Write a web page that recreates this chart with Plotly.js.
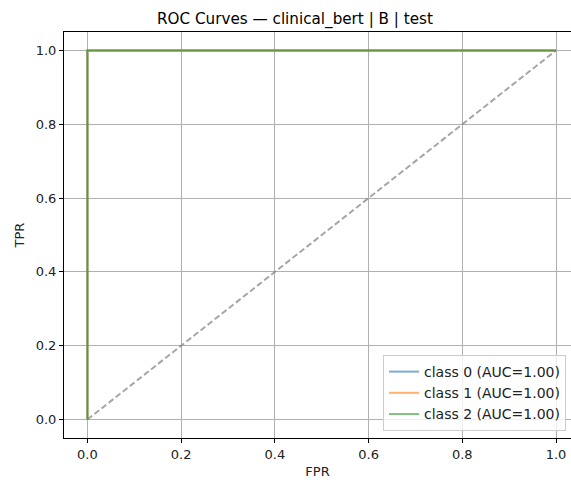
<!DOCTYPE html>
<html><head><meta charset="utf-8">
<script src="https://cdn.plot.ly/plotly-3.0.1.min.js"></script>
<style>html,body{margin:0;padding:0;background:#fff}#chart{width:571px;height:481px}</style>
</head><body><div id="chart"></div>
<script>
const classNames = ["class 0 (AUC=1.00)", "class 1 (AUC=1.00)", "class 2 (AUC=1.00)"];
const fpr0 = [0, 0, 1], tpr0 = [0, 1, 1];
const fpr1 = [0, 0, 1], tpr1 = [0, 1, 1];
const fpr2 = [0, 0, 1], tpr2 = [0, 1, 1];
const diagX = [0, 1], diagY = [0, 1];
const xTicks = [0, 0.2, 0.4, 0.6, 0.8, 1.0];
const yTicks = [0, 0.2, 0.4, 0.6, 0.8, 1.0];
const xTickText = ["0.0", "0.2", "0.4", "0.6", "0.8", "1.0"];
const yTickText = ["0.0", "0.2", "0.4", "0.6", "0.8", "1.0"];

const colors = ["rgba(31,119,180,0.6)", "rgba(255,127,14,0.6)", "rgba(44,160,44,0.6)"];
const fprs = [fpr0, fpr1, fpr2], tprs = [tpr0, tpr1, tpr2];
const font = "DejaVu Sans, sans-serif";
const traces = fprs.map((f, i) => ({
  x: f, y: tprs[i], mode: "lines", name: classNames[i],
  line: {color: colors[i], width: 2}, type: "scatter"
}));
traces.push({x: diagX, y: diagY, mode: "lines", showlegend: false,
  line: {color: "rgba(128,128,128,0.7)", width: 2, dash: "6px,3px"}});

const layout = {
  width: 571, height: 481,
  margin: {l: 64, r: 0, t: 32, b: 43, pad: 0},
  paper_bgcolor: "#fff", plot_bgcolor: "#fff",
  font: {family: font, size: 13, color: "#222"},
  title: {text: "ROC Curves — clinical_bert | B | test", font: {size: 15.2, color: "#000"},
    x: (295 - 64) / 507, xanchor: "center", xref: "paper", y: 1, yref: "paper", yanchor: "bottom", pad: {b: 8}},
  xaxis: {range: [-0.05, 1.032], tickvals: xTicks, ticktext: xTickText,
    showgrid: true, gridcolor: "#b0b0b0", gridwidth: 1, zeroline: false,
    showline: true, linecolor: "#000", linewidth: 1, mirror: true,
    ticks: "outside", ticklen: 4, tickcolor: "#000",
    title: {text: "FPR", font: {size: 13}, standoff: 6}},
  yaxis: {range: [-0.05, 1.05], tickvals: yTicks, ticktext: yTickText,
    showgrid: true, gridcolor: "#b0b0b0", gridwidth: 1, zeroline: false,
    showline: true, linecolor: "#000", linewidth: 1,
    ticks: "outside", ticklen: 4, tickcolor: "#000",
    title: {text: "TPR", font: {size: 13}, standoff: 8}},
  legend: {x: (566 - 64) / 507, xanchor: "right", y: (438 - 431) / 406, yanchor: "bottom",
    bgcolor: "rgba(255,255,255,0.8)", bordercolor: "#ccc", borderwidth: 1,
    font: {size: 14}, tracegroupgap: 0},
  showlegend: true
};
Plotly.newPlot("chart", traces, layout, {displayModeBar: false, staticPlot: true});
</script></body></html>
